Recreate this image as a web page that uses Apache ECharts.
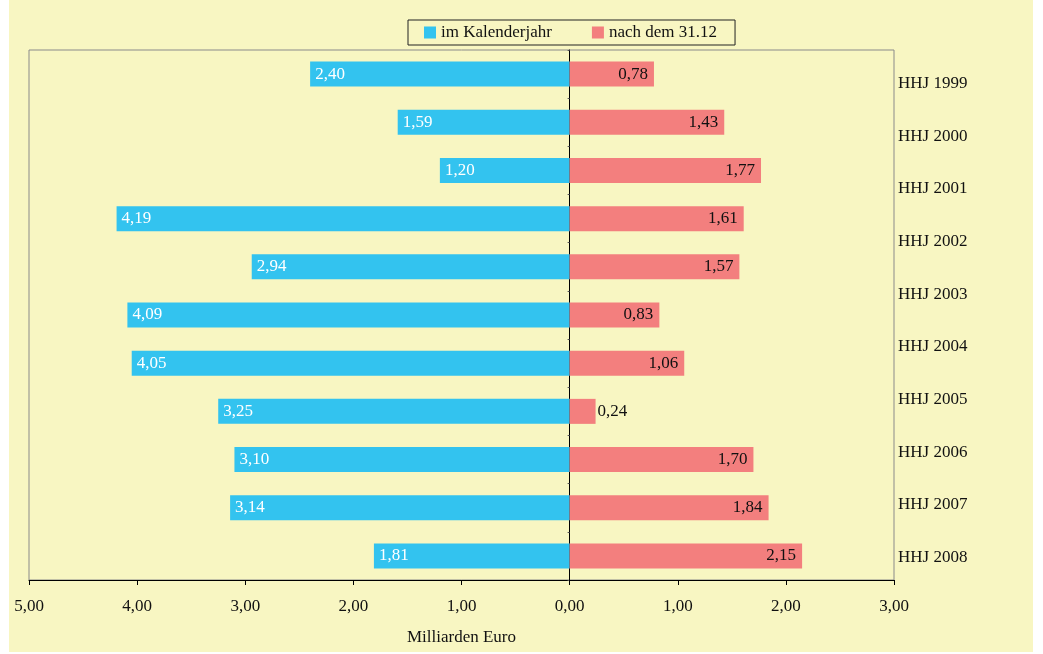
<!DOCTYPE html>
<html>
<head>
<meta charset="utf-8">
<script src="https://cdn.jsdelivr.net/npm/echarts@6/dist/echarts.min.js"></script>
<style>
  html, body { margin: 0; padding: 0; background: #fff; }
  #bg { position: absolute; left: 9px; top: 0; width: 1024px; height: 652px; background: #F8F6C2; }
  #chart { position: absolute; left: 0; top: 0; width: 1043px; height: 654px; }
</style>
</head>
<body>
<div id="bg"></div>
<div id="chart"></div>
<script>
// Beschriftung rechts (10 Haushaltsjahre)
var years = ["HHJ 1999", "HHJ 2000", "HHJ 2001", "HHJ 2002", "HHJ 2003", "HHJ 2004",
  "HHJ 2005", "HHJ 2006", "HHJ 2007", "HHJ 2008"];
// 11 Balkenpaare
var rows = ["b1", "b2", "b3", "b4", "b5", "b6", "b7", "b8", "b9", "b10", "b11"];
// im Kalenderjahr (nach links)
var kalenderjahr = [2.40, 1.59, 1.20, 4.19, 2.94, 4.09, 4.05, 3.25, 3.10, 3.14, 1.81];
// nach dem 31.12 (nach rechts)
var nach3112 = [0.78, 1.43, 1.77, 1.61, 1.57, 0.83, 1.06, 0.24, 1.70, 1.84, 2.15];

var fmt = function (v) { return Math.abs(v).toFixed(2).replace(".", ","); };
var font = "Liberation Serif";
var fs = 17;

var chart = echarts.init(document.getElementById("chart"));
chart.setOption({
  backgroundColor: "transparent",
  textStyle: { fontFamily: font },
  animation: false,
  legend: {
    left: 408, top: 20,
    padding: [4, 18, 4, 16],
    borderColor: "#222", borderWidth: 1,
    icon: "rect", itemWidth: 12, itemHeight: 12, itemGap: 40,
    textStyle: { fontFamily: font, fontSize: fs, color: "#111" },
    data: ["im Kalenderjahr", "nach dem 31.12"]
  },
  grid: [
    { left: 29, right: 149, top: 50, bottom: 74, show: true, borderColor: "#8a8a8a", borderWidth: 1 },
    { left: 29, right: 149, top: 57, bottom: 70 }
  ],
  xAxis: [{
    gridIndex: 0, type: "value", min: -5, max: 3, interval: 1,
    axisLine: { show: true, onZero: false, lineStyle: { color: "#000" } },
    axisTick: { show: true, length: 5, lineStyle: { color: "#000" } },
    splitLine: { show: false },
    axisLabel: { formatter: fmt, fontFamily: font, fontSize: fs, color: "#111", margin: 18 },
    name: "Milliarden Euro", nameLocation: "middle", nameGap: 49,
    nameTextStyle: { fontFamily: font, fontSize: fs, color: "#111" }
  }, {
    gridIndex: 1, type: "value", min: -5, max: 3, show: false
  }],
  yAxis: [{
    gridIndex: 0, type: "category", inverse: true, data: rows,
    axisLine: { show: true, onZero: true, lineStyle: { color: "#000" } },
    axisTick: { show: true, length: 2, lineStyle: { color: "#555" } },
    axisLabel: { show: false }
  }, {
    gridIndex: 1, type: "category", inverse: true, position: "right", data: years,
    axisLine: { show: false }, axisTick: { show: false },
    axisLabel: { fontFamily: font, fontSize: fs, color: "#111", margin: 4, align: "left" }
  }],
  series: [{
    name: "im Kalenderjahr", type: "bar", xAxisIndex: 0, yAxisIndex: 0,
    barWidth: 25, barGap: "-100%",
    itemStyle: { color: "#33C3EF" },
    label: { show: true, position: "insideLeft", distance: 5, color: "#fff",
      fontFamily: font, fontSize: fs, formatter: function (p) { return fmt(p.value); } },
    data: kalenderjahr.map(function (v) { return -v; })
  }, {
    name: "nach dem 31.12", type: "bar", xAxisIndex: 0, yAxisIndex: 0,
    barWidth: 25, barGap: "-100%",
    itemStyle: { color: "#F37F7E" },
    label: { show: true, position: "insideRight", distance: 6, color: "#111",
      fontFamily: font, fontSize: fs, formatter: function (p) { return fmt(p.value); } },
    data: nach3112.map(function (v) {
      return v < 0.5 ? { value: v, label: { position: "right", distance: 2 } } : v;
    })
  }]
});
</script>
</body>
</html>
